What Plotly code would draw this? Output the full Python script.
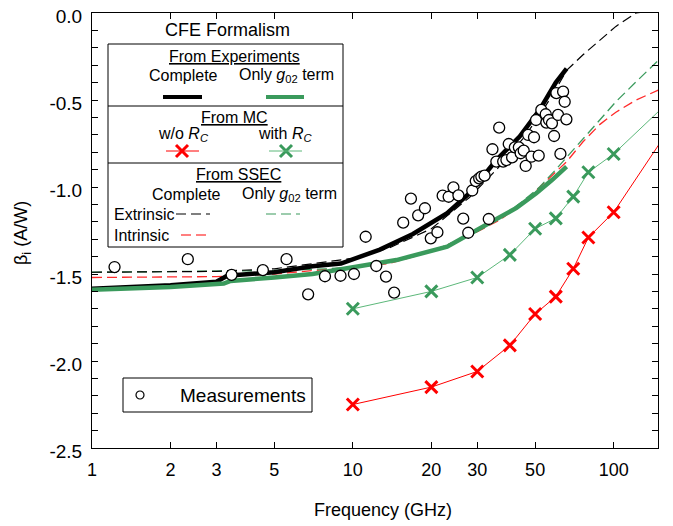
import plotly.graph_objects as go

# ---------------- data ----------------
meas_freq = [1.22, 2.33, 3.43, 4.52, 5.57, 6.74, 7.82, 8.97, 10.1, 11.2, 12.3, 13.4, 14.4,
             15.6, 16.7, 17.8, 18.9, 19.9, 21.1, 22.1, 23.3, 24.3, 25.4, 26.5, 27.7, 28.7,
             29.6, 30.5, 31.1, 32.0, 33.2, 34.3, 35.5, 36.4, 37.7, 38.8, 39.6, 40.8, 41.8,
             43.3, 44.0, 45.2, 46.0, 47.0, 48.4, 49.5, 50.4, 51.6, 52.8, 54.9, 55.2, 56.5,
             58.0, 59.1, 60.3, 61.2, 62.5, 64.0, 64.9, 65.9]
meas_beta = [-1.46, -1.415, -1.505, -1.478, -1.415, -1.617, -1.513, -1.51, -1.50, -1.286,
             -1.454, -1.515, -1.607, -1.205, -1.067, -1.163, -1.122, -1.295, -1.26, -1.05,
             -1.056, -1.002, -1.048, -1.182, -1.263, -1.02, -0.966, -0.95, -0.94, -0.935,
             -1.184, -0.783, -0.854, -0.659, -0.854, -0.845, -0.753, -0.83, -0.772, -0.772,
             -0.806, -0.791, -0.879, -0.701, -0.826, -0.714, -0.615, -0.82, -0.557, -0.582,
             -0.63, -0.615, -0.634, -0.707, -0.46, -0.586, -0.81, -0.452, -0.51, -0.611]

exp_complete_freq = [1, 2, 3, 3.3, 5, 7, 9, 12.7, 17, 23, 28, 35.5, 43.6, 52, 60, 66]
exp_complete_beta = [-1.585, -1.565, -1.545, -1.51, -1.49, -1.455, -1.44, -1.36, -1.27,
                     -1.15, -1.035, -0.845, -0.71, -0.557, -0.40, -0.32]

exp_g02_freq = [1, 2, 3.2, 3.4, 5, 7, 9.5, 14.7, 23, 30, 35, 42.4, 50.5, 58, 66]
exp_g02_beta = [-1.59, -1.575, -1.555, -1.54, -1.52, -1.5, -1.467, -1.42, -1.343, -1.25,
                -1.19, -1.12, -1.036, -0.96, -0.883]

mc_freq = [10, 20, 30, 40, 50, 60, 70, 80, 100, 150]
mc_noRc_beta = [-2.25, -2.15, -2.06, -1.91, -1.73, -1.63, -1.47, -1.29, -1.145, -0.75]
mc_Rc_beta = [-1.70, -1.60, -1.52, -1.39, -1.24, -1.18, -1.055, -0.915, -0.81, -0.56]

ssec_freq = [1, 3, 5, 8, 10, 13.8, 20, 28, 36.6, 45, 52, 60, 66, 76.3, 88.6, 102, 122, 150]
ssec_ext_complete = [-1.49, -1.485, -1.47, -1.43, -1.41, -1.35, -1.24, -1.06, -0.88, -0.72,
                     -0.59, -0.44, -0.33, -0.24, -0.155, -0.077, 0.0, 0.02]
ssec_ext_g02 = [-1.49, -1.485, -1.48, -1.47, -1.46, -1.43, -1.37, -1.28, -1.18, -1.08,
                -1.0, -0.90, -0.83, -0.72, -0.61, -0.51, -0.395, -0.265]
ssec_int_complete = [-1.52, -1.515, -1.50, -1.475, -1.46, -1.44, -1.37, -1.28, -1.19, -1.09,
                     -1.0, -0.91, -0.855, -0.74, -0.64, -0.57, -0.50, -0.44]

x_tickvals = [1, 2, 3, 5, 10, 20, 30, 50, 100]
x_ticktext = ["1", "2", "3", "5", "10", "20", "30", "50", "100"]
y_tickvals = [-2.5, -2.0, -1.5, -1.0, -0.5, 0.0]
y_ticktext = ["-2.5", "-2.0", "-1.5", "-1.0", "-0.5", "0.0"]

# ---------------- style ----------------
FONT = "Liberation Sans, Arial, sans-serif"
GREEN = "#3a9a5c"
LGREEN = "#5cb87a"
RED = "#ff0000"
DRED = "#ff2a2a"
DASH = "10px,5px"

# the page has an 8px body margin; the figure is offset to compensate
OFF = 8
W, H = 673 - OFF, 526 - OFF
# plot area in reference-page pixels
L, R, T, B = 92, 658, 13, 448

fig = go.Figure()

fig.add_trace(go.Scatter(x=ssec_freq, y=ssec_int_complete, mode="lines",
                         line=dict(color=DRED, width=1.3, dash=DASH)))
fig.add_trace(go.Scatter(x=ssec_freq, y=ssec_ext_g02, mode="lines",
                         line=dict(color=GREEN, width=1.3, dash=DASH)))
fig.add_trace(go.Scatter(x=ssec_freq, y=ssec_ext_complete, mode="lines",
                         line=dict(color="black", width=1.2, dash=DASH)))
fig.add_trace(go.Scatter(x=exp_complete_freq, y=exp_complete_beta, mode="lines",
                         line=dict(color="black", width=4.5)))
fig.add_trace(go.Scatter(x=exp_g02_freq, y=exp_g02_beta, mode="lines",
                         line=dict(color=GREEN, width=4.5)))
msize = [12] * (len(mc_freq) - 1) + [0]
fig.add_trace(go.Scatter(x=mc_freq, y=mc_Rc_beta, mode="lines+markers",
                         line=dict(color=LGREEN, width=1),
                         marker=dict(symbol="x-thin", size=msize, opacity=1, color=GREEN,
                                     line=dict(width=3, color=GREEN))))
fig.add_trace(go.Scatter(x=mc_freq, y=mc_noRc_beta, mode="lines+markers",
                         line=dict(color=RED, width=1),
                         marker=dict(symbol="x-thin", size=msize, opacity=1, color=RED,
                                     line=dict(width=3, color=RED))))
fig.add_trace(go.Scatter(x=meas_freq, y=meas_beta, mode="markers",
                         marker=dict(symbol="circle", size=11, color="white", opacity=1,
                                     line=dict(color="black", width=1.3))))

# ---------------- legend decorations ----------------
def px(x):
    return (x - L) / (R - L)

def py(y):
    return (B - y) / (B - T)

shapes = []
def box(x0, y0, x1, y1):
    shapes.append(dict(type="rect", xref="paper", yref="paper", x0=px(x0), x1=px(x1),
                       y0=py(y1), y1=py(y0), line=dict(color="black", width=1),
                       fillcolor="white", layer="below"))

def hline(x0, x1, y, color, width, dash=None):
    shapes.append(dict(type="line", xref="paper", yref="paper", x0=px(x0), x1=px(x1),
                       y0=py(y), y1=py(y), line=dict(color=color, width=width, dash=dash)))

box(108, 44, 343, 247)
hline(108, 343, 106, "black", 1)
hline(108, 343, 163, "black", 1)
hline(163, 202, 97, "black", 4)
hline(266, 304, 97, GREEN, 4)
hline(166, 199, 151, RED, 1)
hline(269, 302, 151, LGREEN, 1)
hline(176, 210, 214, "black", 1.2, DASH)
hline(266, 300, 214, GREEN, 1.2, DASH)
hline(181, 210, 235, "#ff5555", 1.5, DASH)
box(123, 378, 312, 412)

fig.add_trace(go.Scatter(x=[182, 286], y=[151, 151], mode="markers", xaxis="x2", yaxis="y2",
                         marker=dict(symbol="x-thin", size=12, opacity=1, color=[RED, GREEN],
                                     line=dict(width=3, color=[RED, GREEN]))))
fig.add_trace(go.Scatter(x=[140], y=[395], mode="markers", xaxis="x2", yaxis="y2",
                         marker=dict(symbol="circle", size=8, color="white", opacity=1,
                                     line=dict(color="black", width=1.2))))

ann = []
def text(x, y, s, size=16, xanchor="center", textangle=0):
    ann.append(dict(x=px(x), y=py(y), xref="paper", yref="paper", text=s, showarrow=False,
                    xanchor=xanchor, yanchor="middle", textangle=textangle,
                    font=dict(size=size, color="black", family=FONT)))

G02 = "Only <i>g</i><sub>02</sub> term"
text(227, 30, "CFE Formalism", 18)
text(234, 56, "<u>From Experiments</u>")
text(183, 75, "Complete")
text(286, 75, G02)
text(234, 117, "<u>From MC</u>")
text(183, 135, "w/o <i>R</i><sub><i>C</i></sub>")
text(285, 135, "with <i>R</i><sub><i>C</i></sub>")
text(238, 174, "<u>From SSEC</u>")
text(186, 194, "Complete")
text(289, 194, G02)
text(112, 214, "Extrinsic", xanchor="left")
text(112, 235, "Intrinsic", xanchor="left")
text(178, 395, "Measurements", 19, xanchor="left")
# axis titles
text(383, 510, "Frequency (GHz)", 18)
text(22, 233, "β<sub>i</sub> (A&#47;W)", 18, textangle=-90)

fig.update_layout(
    width=W, height=H,
    margin=dict(l=L - OFF, r=W - (R - OFF), t=T - OFF, b=H - (B - OFF), pad=0,
                autoexpand=False),
    paper_bgcolor="white", plot_bgcolor="white",
    showlegend=False,
    font=dict(family=FONT, size=18, color="black"),
    shapes=shapes, annotations=ann,
    xaxis=dict(type="log", range=[0, 2.17], tickmode="array", tickvals=x_tickvals,
               ticktext=x_ticktext, ticks="inside", ticklen=6, tickcolor="black",
               showline=True, linecolor="black", linewidth=1, mirror="ticks",
               showgrid=False, zeroline=False, tickfont=dict(size=18),
               ticklabelstandoff=5, automargin=False, ticklabeloverflow="allow"),
    yaxis=dict(range=[-2.5, 0], tickmode="array", tickvals=y_tickvals, ticktext=y_ticktext,
               ticks="inside", ticklen=6, tickcolor="black",
               minor=dict(dtick=0.1, ticks="inside", ticklen=6, tickcolor="black"),
               showline=True, linecolor="black", linewidth=1, mirror="ticks",
               showgrid=False, zeroline=False, tickfont=dict(size=19),
               ticklabelstandoff=5, ticklabelshift=3, automargin=False,
               ticklabeloverflow="allow"),
    xaxis2=dict(overlaying="x", range=[L, R], visible=False, fixedrange=True),
    yaxis2=dict(overlaying="y", range=[B, T], visible=False, fixedrange=True),
)

fig.write_html("out.html")
